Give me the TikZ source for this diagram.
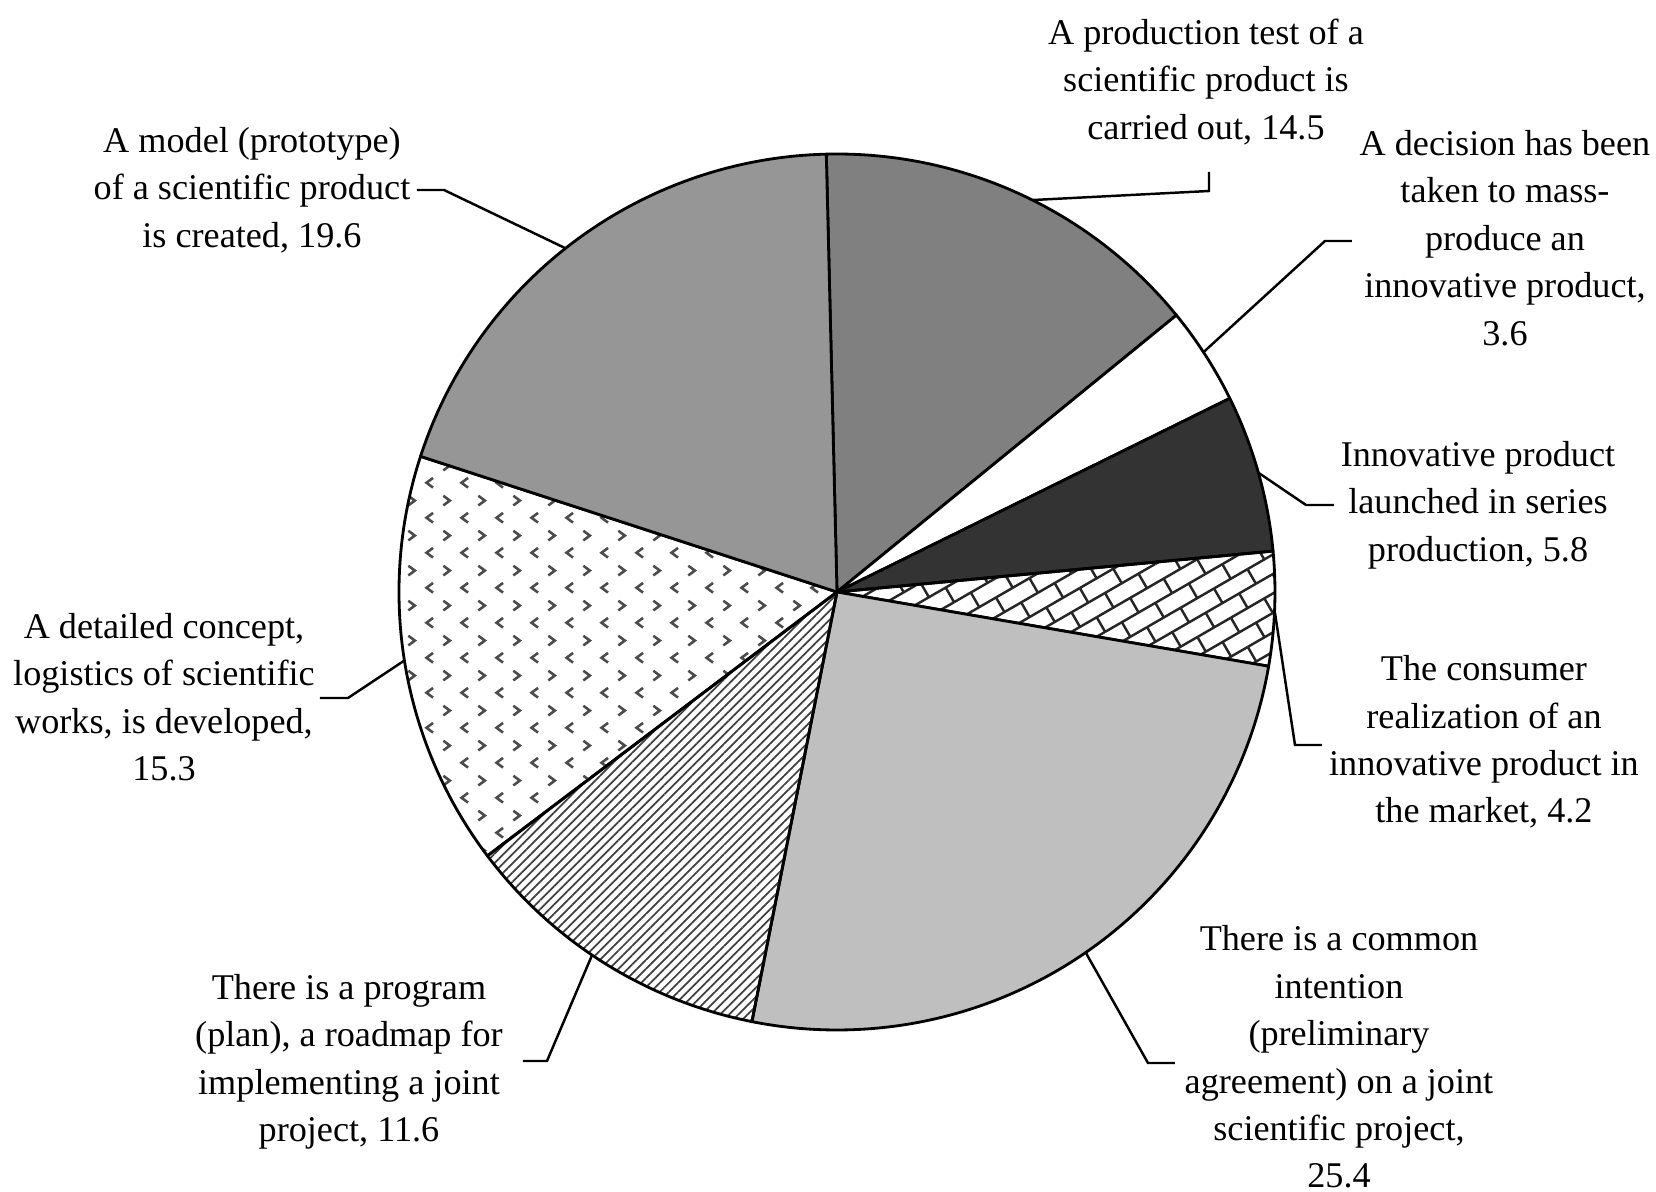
\documentclass[tikz,border=0pt]{standalone}
\usepackage{fontspec}
\setmainfont{Liberation Serif}
\usetikzlibrary{patterns.meta}

\tikzdeclarepattern{
  name=chevrons,
  type=uncolored,
  bottom left={(0pt,0pt)},
  top right={(10pt,10pt)},
  tile size={(10pt,10pt)},
  code={
    \tikzset{x=1pt,y=1pt}
    \draw[line width=0.75pt] (3.5,1.0) -- (1.6,2.4) -- (3.5,3.8);
    \draw[line width=0.75pt] (6.5,6.0) -- (8.4,7.4) -- (6.5,8.8);
  }
}

\tikzdeclarepattern{
  name=slantbricks,
  type=uncolored,
  bottom left={(-0.5pt,-0.5pt)},
  top right={(11.5pt,10.1pt)},
  tile size={(11pt,9.6pt)},
  tile transformation={rotate=30},
  code={
    \tikzset{x=1pt,y=1pt}
    \draw[line width=0.7pt] (0,0) -- (11,0) (0,4.8) -- (11,4.8)
      (0,0) -- (0,4.8) (5.5,4.8) -- (5.5,9.6);
  }
}

\definecolor{pieA}{gray}{0.50}
\definecolor{pieC}{gray}{0.20}
\definecolor{pieE}{gray}{0.75}
\definecolor{pieH}{gray}{0.59}

\begin{document}
\begin{tikzpicture}[
    slice/.style={draw=black, line width=0.8pt, line join=round},
    p1/.style={fill=pieA},
    p2/.style={fill=white},
    p3/.style={fill=pieC},
    p4/.style={pattern=slantbricks, pattern color=black!85},
    p5/.style={fill=pieE},
    p6/.style={pattern={Lines[angle=45,distance=1.85pt,line width=0.5pt]}, pattern color=black!75},
    p7/.style={pattern=chevrons, pattern color=black!70},
    p8/.style={fill=pieH},
    leader/.style={draw=black, line width=0.7pt},
    lab/.style={align=center, inner sep=0pt, font=\fontsize{10.3pt}{13.5pt}\selectfont}
  ]
    \useasboundingbox (-8.37,-6.00) rectangle (8.19,5.92);
    \def\R{4.38}

    % slices, clockwise from the top
    \foreach \a/\b/\i in {91.4/39.2/1, 39.2/26.24/2, 26.24/5.36/3, 5.36/-9.76/4,
                          -9.76/-101.2/5, -101.2/-142.96/6, -142.96/-198.04/7, -198.04/-268.6/8} {
        \draw[slice, p\i] (0,0) -- (\a:\R) arc (\a:\b:\R) -- cycle;
    }

    % labels
    \node[lab] (l1) at (3.69, 5.10) {A production test of a\\scientific product is\\carried out, 14.5};
    \node[lab] (l2) at (6.68, 3.54) {A decision has been\\taken to mass-\\produce an\\innovative product,\\3.6};
    \node[lab] (l3) at (6.41, 0.87) {Innovative product\\launched in series\\production, 5.8};
    \node[lab] (l4) at (6.47, -1.50) {The consumer\\realization of an\\innovative product in\\the market, 4.2};
    \node[lab] (l5) at (5.02, -4.65) {There is a common\\intention\\(preliminary\\agreement) on a joint\\scientific project,\\25.4};
    \node[lab] (l6) at (-4.88, -4.70) {There is a program\\(plan), a roadmap for\\implementing a joint\\project, 11.6};
    \node[lab] (l7) at (-6.73, -1.05) {A detailed concept,\\logistics of scientific\\works, is developed,\\15.3};
    \node[lab] (l8) at (-5.85, 4.02) {A model (prototype)\\of a scientific product\\is created, 19.6};

    % leader lines
    \coordinate (t1) at (3.72, 4.20);
    \draw[leader] (63.5:\R) -- (3.72, 4.01) -- (t1);
    \foreach \ang/\ex/\ey/\fx/\i in {33.2/4.88/3.51/5.15/2, 15.8/4.69/0.87/4.97/3,
                                    -2.4/4.58/-1.53/4.85/4, -55.4/3.11/-4.71/3.38/5,
                                    -124/-2.90/-4.69/-3.14/6, 189/-4.89/-1.06/-5.17/7,
                                    128.3/-3.93/4.02/-4.20/8} {
        \draw[leader] (\ang:\R) -- (\ex, \ey) -- (\fx, \ey) coordinate (t\i);
    }

\end{tikzpicture}
\end{document}
